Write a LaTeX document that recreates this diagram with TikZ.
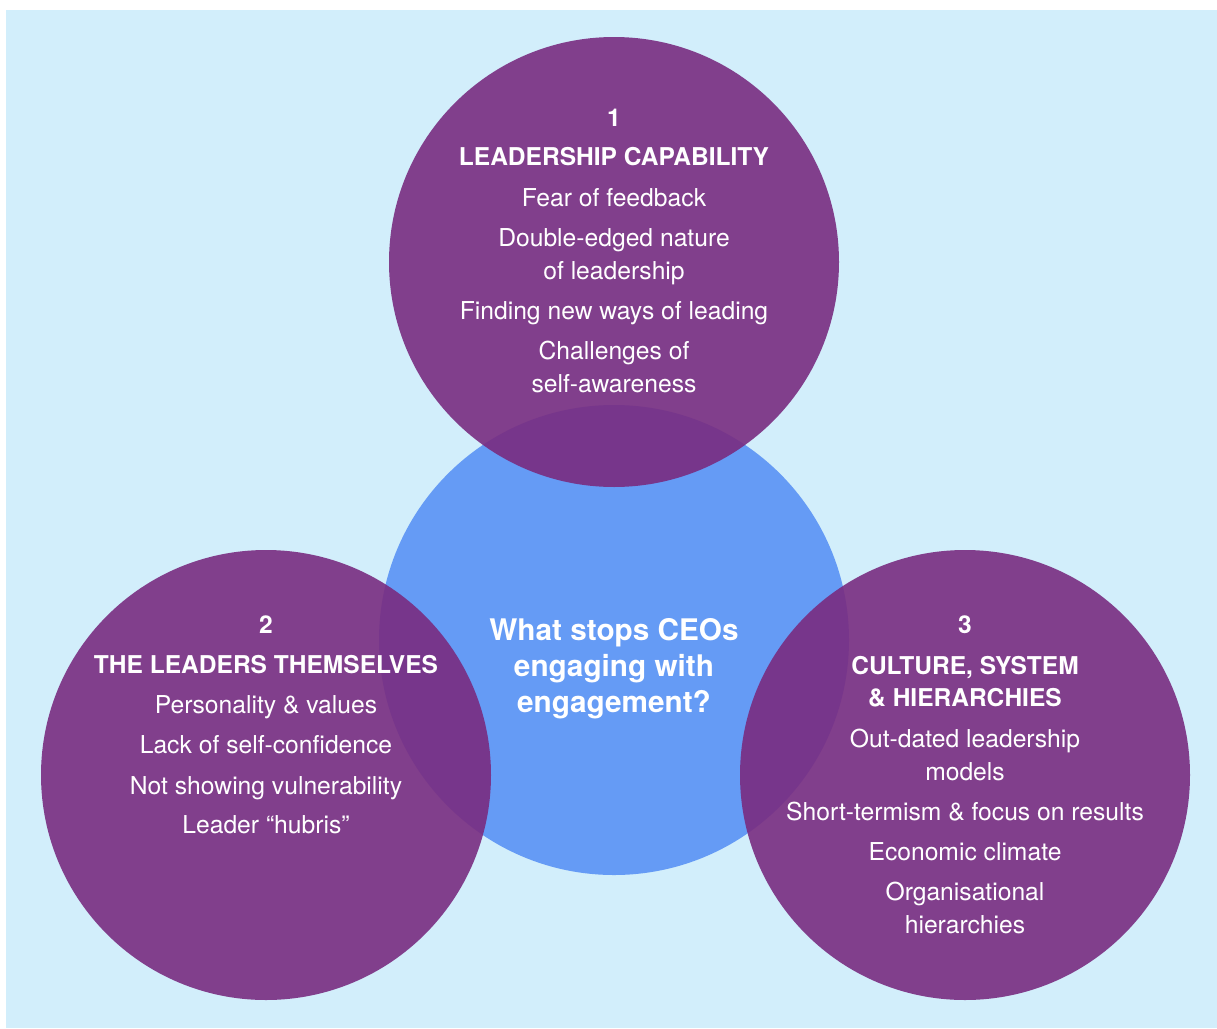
\documentclass[tikz,border=0pt]{standalone}
\usepackage{fontspec}
\setmainfont{TeX Gyre Heros}
\begin{document}
\definecolor{skybg}{RGB}{210,238,251}
\definecolor{hubblue}{RGB}{101,155,245}
\definecolor{plum}{RGB}{121,44,128}
\begin{tikzpicture}[x=0.75pt,y=-0.75pt,
  bubble/.style={circle,inner sep=0pt,minimum size=337.5pt,fill=plum,fill opacity=0.9},
  hub/.style={circle,inner sep=0pt,minimum size=352.5pt,fill=hubblue},
  num/.style={anchor=base,text=white,font=\fontsize{18.4}{20}\selectfont\bfseries,inner sep=0pt},
  head/.style={anchor=base,text=white,font=\fontsize{18.4}{20}\selectfont\bfseries,inner sep=0pt},
  item/.style={anchor=base,text=white,font=\fontsize{18.5}{20}\selectfont,inner sep=0pt},
  ask/.style={anchor=base,text=white,font=\fontsize{22.3}{24}\selectfont\bfseries,inner sep=0pt}]
  % page and panel
  \useasboundingbox (0,0) rectangle (1217,1028);
  \fill[skybg] (6,10) rectangle (1217,1028);

  % central question circle, then the three theme circles over it
  \node[hub] (hub) at (614,640) {};
  \node[bubble] (capability) at (614,262) {};
  \node[bubble] (leaders) at (266,775) {};
  \node[bubble] (culture) at (965,775) {};

  % centre text
  \node[ask] (q1) at (614,640) {What stops CEOs};
  \node[ask] (q2) at (614,676) {engaging with};
  \node[ask] (q3) at (614,712) {engagement?};

  % theme 1
  \node[num]  (c0) at (614,126) {1};
  \node[head] (c1) at (614,165) {LEADERSHIP CAPABILITY};
  \node[item] (c2) at (614,206) {Fear of feedback};
  \node[item] (c3) at (614,246) {Double-edged nature};
  \node[item] (c4) at (614,279) {of leadership};
  \node[item] (c5) at (614,319) {Finding new ways of leading};
  \node[item] (c6) at (614,359) {Challenges of};
  \node[item] (c7) at (614,392) {self-awareness};

  % theme 2
  \node[num]  (l0) at (266,633) {2};
  \node[head] (l1) at (266,673) {THE LEADERS THEMSELVES};
  \node[item] (l2) at (266,713) {Personality \& values};
  \node[item] (l3) at (266,753) {Lack of self-confidence};
  \node[item] (l4) at (266,794) {Not showing vulnerability};
  \node[item] (l5) at (266,833) {Leader “hubris”};

  % theme 3
  \node[num]  (r0) at (965,633) {3};
  \node[head] (r1) at (965,674) {CULTURE, SYSTEM};
  \node[head] (r2) at (965,706) {\& HIERARCHIES};
  \node[item] (r3) at (965,747) {Out-dated leadership};
  \node[item] (r4) at (965,780) {models};
  \node[item] (r5) at (965,820) {Short-termism \& focus on results};
  \node[item] (r6) at (965,860) {Economic climate};
  \node[item] (r7) at (965,900) {Organisational};
  \node[item] (r8) at (965,933) {hierarchies};
\end{tikzpicture}
\end{document}
